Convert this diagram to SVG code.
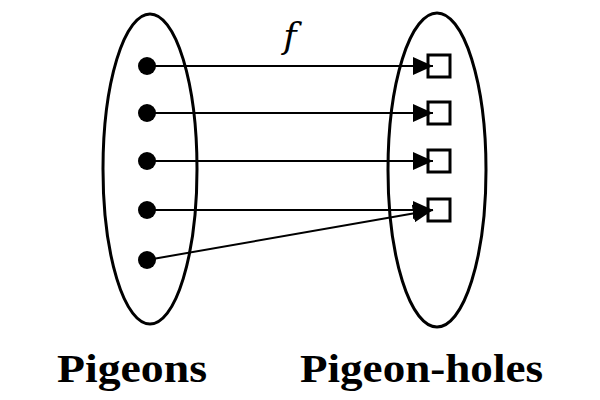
<svg xmlns="http://www.w3.org/2000/svg" width="600" height="400" viewBox="0 0 600 400">
<style>
.set{fill:none;stroke:#000;stroke-width:3}
.dot{fill:#000}
.hole{fill:#fff;stroke:#000;stroke-width:3}
.edge{stroke:#000;stroke-width:2;fill:none;marker-end:url(#ah)}
.lbl{font-family:"Liberation Serif","DejaVu Serif",serif;font-weight:bold;font-size:41px;fill:#000}
.fn{font-family:"DejaVu Serif",serif;font-style:italic;font-size:36px;fill:#000}
</style>
<defs>
<marker id="ah" viewBox="0 0 20 18" refX="20" refY="9" markerWidth="20" markerHeight="18" markerUnits="userSpaceOnUse" orient="auto">
<path d="M0,0 L20,9 L0,18 Z" fill="#000"/>
</marker>
</defs>
<rect width="600" height="400" fill="#fff"/>
<g id="pigeons"><ellipse class="set" cx="150" cy="169" rx="47" ry="155"/></g>
<g id="holes"><ellipse class="set" cx="437" cy="170" rx="49" ry="157"/></g>
<g id="p1"><circle class="dot" cx="147" cy="66" r="9"/></g>
<g id="p2"><circle class="dot" cx="147" cy="113" r="9"/></g>
<g id="p3"><circle class="dot" cx="147" cy="161" r="9"/></g>
<g id="p4"><circle class="dot" cx="147" cy="210" r="9"/></g>
<g id="p5"><circle class="dot" cx="147" cy="260" r="9"/></g>
<g id="h1"><rect class="hole" x="428" y="55" width="22" height="22"/></g>
<g id="h2"><rect class="hole" x="428" y="102" width="22" height="22"/></g>
<g id="h3"><rect class="hole" x="428" y="150" width="22" height="22"/></g>
<g id="h4"><rect class="hole" x="428" y="199" width="22" height="22"/></g>
<g id="connectors">
<line class="edge" x1="147" y1="66" x2="433" y2="66"/>
<line class="edge" x1="147" y1="113" x2="433" y2="113"/>
<line class="edge" x1="147" y1="161" x2="433" y2="161"/>
<line class="edge" x1="147" y1="210" x2="433" y2="210"/>
<line class="edge" x1="147" y1="260" x2="433" y2="210"/>
</g>
<text class="fn" x="290" y="48" text-anchor="middle">f</text>
<text class="lbl" x="57" y="382" textLength="150" lengthAdjust="spacingAndGlyphs">Pigeons</text>
<text class="lbl" x="300" y="382" textLength="243" lengthAdjust="spacingAndGlyphs">Pigeon-holes</text>
</svg>
